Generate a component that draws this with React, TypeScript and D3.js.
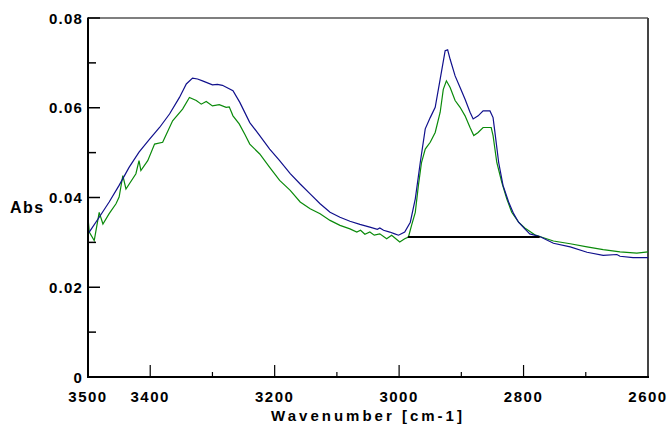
import React from "react";
import * as d3 from "d3";

const blueWn = [3500,3498,3482,3466,3450,3434,3418,3401,3385,3369,3353,3342,3332,3324,3316,3300,3292,3284,3267,3256,3240,3224,3208,3192,3175,3159,3143,3127,3111,3095,3079,3063,3047,3035,3031,3025,3015,3007,3001,2991,2982,2974,2966,2958,2950,2942,2934,2926,2922,2918,2910,2902,2894,2886,2881,2873,2865,2854,2849,2846,2840,2833,2824,2816,2808,2798,2790,2774,2752,2725,2698,2672,2650,2645,2624,2600];
const blueAbs = [0.0320,0.0323,0.0356,0.0390,0.0427,0.0467,0.0501,0.0530,0.0556,0.0586,0.0623,0.0653,0.0666,0.0664,0.0660,0.0651,0.0652,0.0650,0.0638,0.0612,0.0567,0.0538,0.0508,0.0482,0.0453,0.0430,0.0408,0.0386,0.0367,0.0356,0.0347,0.0340,0.0334,0.0329,0.0332,0.0327,0.0323,0.0319,0.0316,0.0323,0.0345,0.0397,0.0478,0.0553,0.0578,0.0601,0.0664,0.0727,0.0729,0.0708,0.0671,0.0645,0.0619,0.0590,0.0575,0.0582,0.0593,0.0593,0.0578,0.0545,0.0478,0.0427,0.0390,0.0364,0.0345,0.0330,0.0319,0.0313,0.0298,0.0290,0.0278,0.0271,0.0273,0.0269,0.0266,0.0266];

const greenWn = [3500,3498,3490,3482,3476,3466,3455,3450,3444,3439,3423,3418,3415,3404,3393,3380,3364,3348,3337,3326,3318,3310,3300,3289,3278,3273,3267,3257,3248,3240,3224,3208,3192,3175,3159,3143,3127,3111,3095,3079,3068,3062,3055,3047,3040,3031,3020,3012,2999,2991,2985,2980,2974,2969,2964,2958,2950,2942,2934,2929,2924,2918,2910,2902,2894,2886,2880,2873,2865,2852,2849,2843,2835,2827,2819,2808,2798,2782,2774,2752,2725,2698,2672,2645,2618,2600];
const greenAbs = [0.0356,0.0323,0.0304,0.0367,0.0341,0.0364,0.0386,0.0401,0.0449,0.0419,0.0453,0.0482,0.0460,0.0482,0.0519,0.0523,0.0571,0.0597,0.0623,0.0616,0.0608,0.0614,0.0604,0.0607,0.0601,0.0602,0.0582,0.0564,0.0541,0.0519,0.0497,0.0467,0.0438,0.0416,0.0390,0.0375,0.0364,0.0349,0.0338,0.0330,0.0323,0.0327,0.0318,0.0323,0.0316,0.0319,0.0308,0.0316,0.0301,0.0308,0.0312,0.0338,0.0367,0.0427,0.0478,0.0508,0.0523,0.0545,0.0590,0.0641,0.0660,0.0645,0.0616,0.0601,0.0582,0.0556,0.0538,0.0545,0.0556,0.0556,0.0538,0.0478,0.0434,0.0397,0.0367,0.0345,0.0332,0.0317,0.0313,0.0303,0.0297,0.0290,0.0284,0.0279,0.0276,0.0279];

const baseWn = [2986, 2774];
const baseAbs = [0.0312, 0.0312];

const xMajorTicks = [3400, 3200, 3000, 2800];
const xMinorTicks = [3300, 3100, 2900, 2700];
const xLabels = [3500, 3400, 3200, 3000, 2800, 2600];
const yMajorTicks = [0.02, 0.04, 0.06, 0.08];
const yMinorTicks = [0.01, 0.03, 0.05, 0.07];
const yLabels = ["0", "0.02", "0.04", "0.06", "0.08"];
const yLabelValues = [0, 0.02, 0.04, 0.06, 0.08];

const W = 669, H = 425;
const L = 88, R = 648, T = 18, B = 377;
const FONT = "'Liberation Sans', Arial, sans-serif";

export default function App() {
  const x = d3.scaleLinear().domain([3500, 2600]).range([L, R]);
  const y = d3.scaleLinear().domain([0, 0.08]).range([B, T]);
  const line = d3.line<[number, number]>().x(d => x(d[0])).y(d => y(d[1]));
  const blue = line(blueWn.map((w, i) => [w, blueAbs[i]]));
  const green = line(greenWn.map((w, i) => [w, greenAbs[i]]));
  const base = line(baseWn.map((w, i) => [w, baseAbs[i]]));

  return (
    <svg width={W} height={H} style={{ position: "absolute", left: 0, top: 0, background: "#fff" }}>
      <line x1={L} y1={T} x2={R} y2={T} stroke="#000" strokeWidth={1.2} />
      <line x1={R} y1={T} x2={R} y2={B} stroke="#444" strokeWidth={2} />
      <path d={green || ""} fill="none" stroke="#0a8a0a" strokeWidth={1.2} />
      <path d={blue || ""} fill="none" stroke="#10108c" strokeWidth={1.2} />
      <path d={base || ""} fill="none" stroke="#000" strokeWidth={2} />
      <line x1={L} y1={T - 0.5} x2={L} y2={B + 1} stroke="#000" strokeWidth={2} />
      <line x1={L - 1} y1={B} x2={R + 1} y2={B} stroke="#000" strokeWidth={2} />
      {xMajorTicks.map(t => (
        <line key={"xM" + t} x1={x(t)} x2={x(t)} y1={B} y2={B - 12} stroke="#000" strokeWidth={1.2} />
      ))}
      {xMinorTicks.map(t => (
        <line key={"xm" + t} x1={x(t)} x2={x(t)} y1={B} y2={B - 5} stroke="#000" strokeWidth={1.2} />
      ))}
      {yMajorTicks.map(t => (
        <line key={"yM" + t} x1={L} x2={L + 12} y1={y(t)} y2={y(t)} stroke="#000" strokeWidth={1.5} />
      ))}
      {yMinorTicks.map(t => (
        <line key={"ym" + t} x1={L} x2={L + 8} y1={y(t)} y2={y(t)} stroke="#000" strokeWidth={1.5} />
      ))}
      {xLabels.map(t => (
        <text key={"xl" + t} x={x(t)} y={402} textAnchor="middle" fontFamily={FONT} fontWeight="bold" fontSize={15} letterSpacing={1.5}>
          {t}
        </text>
      ))}
      {yLabels.map((s, i) => (
        <text key={"yl" + s} x={83} y={y(yLabelValues[i]) + 5.5} textAnchor="end" fontFamily={FONT} fontWeight="bold" fontSize={15} letterSpacing={1.2}>
          {s}
        </text>
      ))}
      <text x={10} y={213} fontFamily={FONT} fontWeight="bold" fontSize={16} letterSpacing={1.5}>Abs</text>
      <text x={(L + R) / 2} y={421} textAnchor="middle" fontFamily={FONT} fontWeight="bold" fontSize={15} letterSpacing={3}>
        Wavenumber [cm-1]
      </text>
    </svg>
  );
}
